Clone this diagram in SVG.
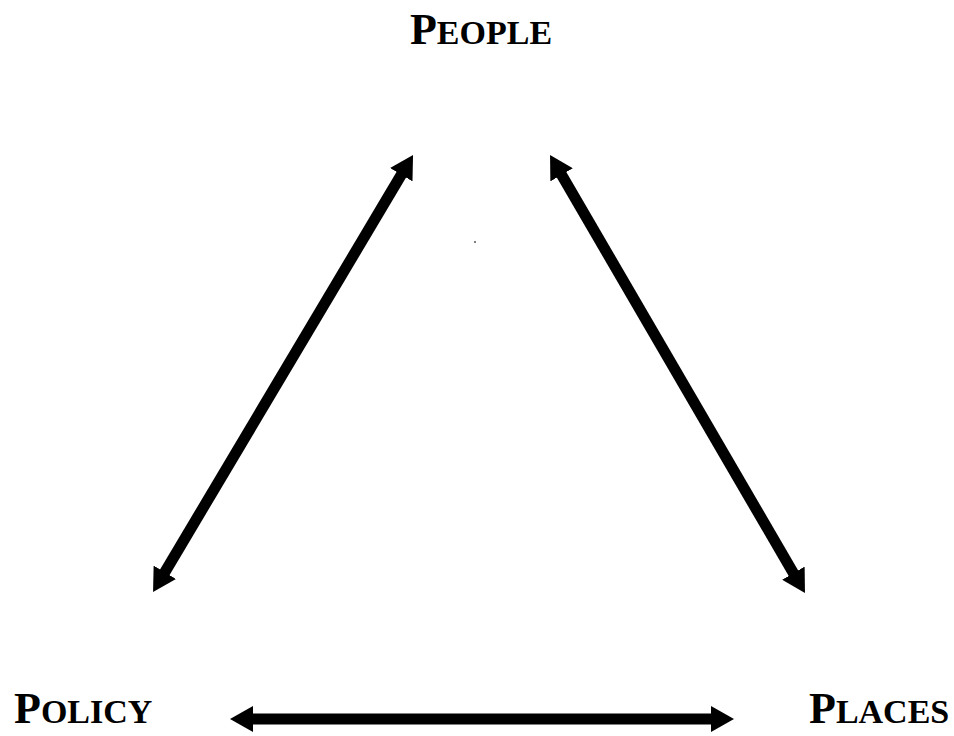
<svg xmlns="http://www.w3.org/2000/svg" width="954" height="736" viewBox="0 0 954 736">
<style>
.lbl{font-family:"Liberation Serif","Times New Roman",serif;font-weight:bold;fill:#000}
.big{font-size:44px}
.sm{font-size:34px}
.conn{stroke:#000;stroke-width:11;fill:none;marker-start:url(#ah);marker-end:url(#ah)}
</style>
<defs>
<marker id="ah" markerUnits="userSpaceOnUse" viewBox="0 -13 23 26" refX="1" refY="0" markerWidth="23" markerHeight="26" orient="auto-start-reverse">
<path d="M0,-13 L23,0 L0,13 Z" fill="#000"/>
</marker>
</defs>
<rect width="954" height="736" fill="#fff"/>
<g id="people"><text class="lbl" x="481" y="44" text-anchor="middle"><tspan class="big">P</tspan><tspan class="sm">EOPLE</tspan></text></g>
<g id="policy"><text class="lbl" x="14" y="723"><tspan class="big">P</tspan><tspan class="sm">OLICY</tspan></text></g>
<g id="places"><text class="lbl" x="809" y="723"><tspan class="big">P</tspan><tspan class="sm">LACES</tspan></text></g>
<g id="connectors">
<line class="conn" x1="164.3" y1="573.1" x2="401.8" y2="173.9"/>
<line class="conn" x1="561.1" y1="174" x2="793.9" y2="574"/>
<line class="conn" x1="252" y1="719" x2="712" y2="719"/>
</g>
<circle cx="475" cy="242" r="1" fill="#555"/>
</svg>
